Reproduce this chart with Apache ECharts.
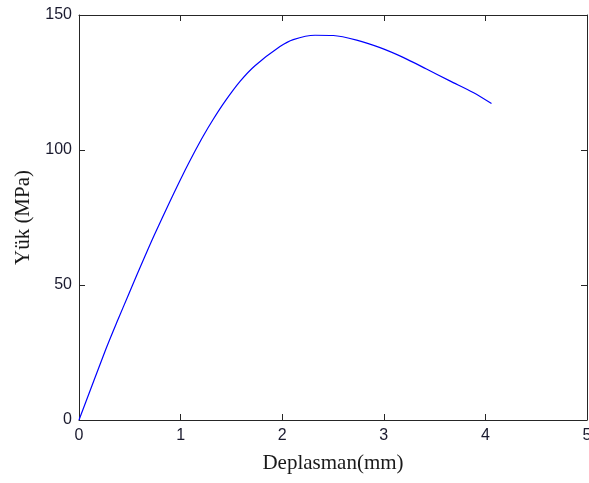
<!DOCTYPE html>
<html>
<head>
<meta charset="utf-8">
<script src="https://cdn.jsdelivr.net/npm/echarts@6/dist/echarts.min.js"></script>
<style>
  html, body { margin: 0; padding: 0; background: #fff; }
  #chart { width: 589px; height: 483px; }
</style>
</head>
<body>
<div id="chart"></div>
<script>
// Load–displacement curve
const displacement = [0, 0.262, 0.387, 0.486, 0.567, 0.65, 0.738, 0.896, 1.027, 1.142, 1.223, 1.32, 1.437, 1.585, 1.732, 1.978, 2.109, 2.323, 2.503, 2.733, 2.963, 3.19, 3.42, 3.65, 3.88, 4.06];
const load = [0, 26.0, 37.5, 46.3, 53.5, 60.7, 68.2, 81.0, 91.2, 99.6, 105.2, 111.3, 118.0, 125.4, 131.2, 138.3, 140.9, 142.5, 142.4, 140.7, 137.9, 134.3, 130.0, 125.6, 121.3, 117.2];
const xTicks = [0, 1, 2, 3, 4, 5];
const yTicks = [0, 50, 100, 150];

const points = displacement.map((d, i) => [d, load[i]]);

const axisColor = '#262626';
const tickFont = { fontFamily: 'Liberation Sans, Arial, sans-serif', fontSize: 16, color: '#1a1a2e' };
const titleFont = { fontFamily: 'Liberation Serif, Times New Roman, serif', fontSize: 21, color: '#1a1a1a' };

const chart = echarts.init(document.getElementById('chart'), null, { renderer: 'canvas' });
chart.setOption({
  animation: false,
  backgroundColor: '#fff',
  grid: { left: 79, right: 2, top: 15, bottom: 63, containLabel: false, outerBoundsMode: 'none' },
  xAxis: [
    {
      type: 'value', min: xTicks[0], max: xTicks[xTicks.length - 1], interval: 1,
      name: 'Deplasman(mm)', nameLocation: 'middle', nameGap: 33,
      nameTextStyle: titleFont,
      axisLine: { show: true, onZero: false, lineStyle: { color: axisColor, width: 1 } },
      axisTick: { show: true, inside: true, length: 6, lineStyle: { color: axisColor } },
      axisLabel: Object.assign({ margin: 8 }, tickFont),
      splitLine: { show: false }
    },
    {
      type: 'value', position: 'top', min: xTicks[0], max: xTicks[xTicks.length - 1], interval: 1,
      axisLine: { show: true, onZero: false, lineStyle: { color: axisColor, width: 1 } },
      axisTick: { show: true, inside: true, length: 6, lineStyle: { color: axisColor } },
      axisLabel: { show: false },
      splitLine: { show: false }
    }
  ],
  yAxis: [
    {
      type: 'value', min: yTicks[0], max: yTicks[yTicks.length - 1], interval: 50,
      name: 'Yük (MPa)', nameLocation: 'middle', nameGap: 43,
      nameTextStyle: titleFont,
      axisLine: { show: true, onZero: false, lineStyle: { color: axisColor, width: 1 } },
      axisTick: { show: true, inside: true, length: 6, lineStyle: { color: axisColor } },
      axisLabel: Object.assign({ margin: 7 }, tickFont),
      splitLine: { show: false }
    },
    {
      type: 'value', position: 'right', min: yTicks[0], max: yTicks[yTicks.length - 1], interval: 50,
      axisLine: { show: true, onZero: false, lineStyle: { color: axisColor, width: 1 } },
      axisTick: { show: true, inside: true, length: 6, lineStyle: { color: axisColor } },
      axisLabel: { show: false },
      splitLine: { show: false }
    }
  ],
  series: [
    {
      type: 'line',
      data: points,
      smooth: 0.3,
      showSymbol: false,
      lineStyle: { color: '#0000ff', width: 1.2 },
      xAxisIndex: 0, yAxisIndex: 0
    }
  ]
});
</script>
</body>
</html>
